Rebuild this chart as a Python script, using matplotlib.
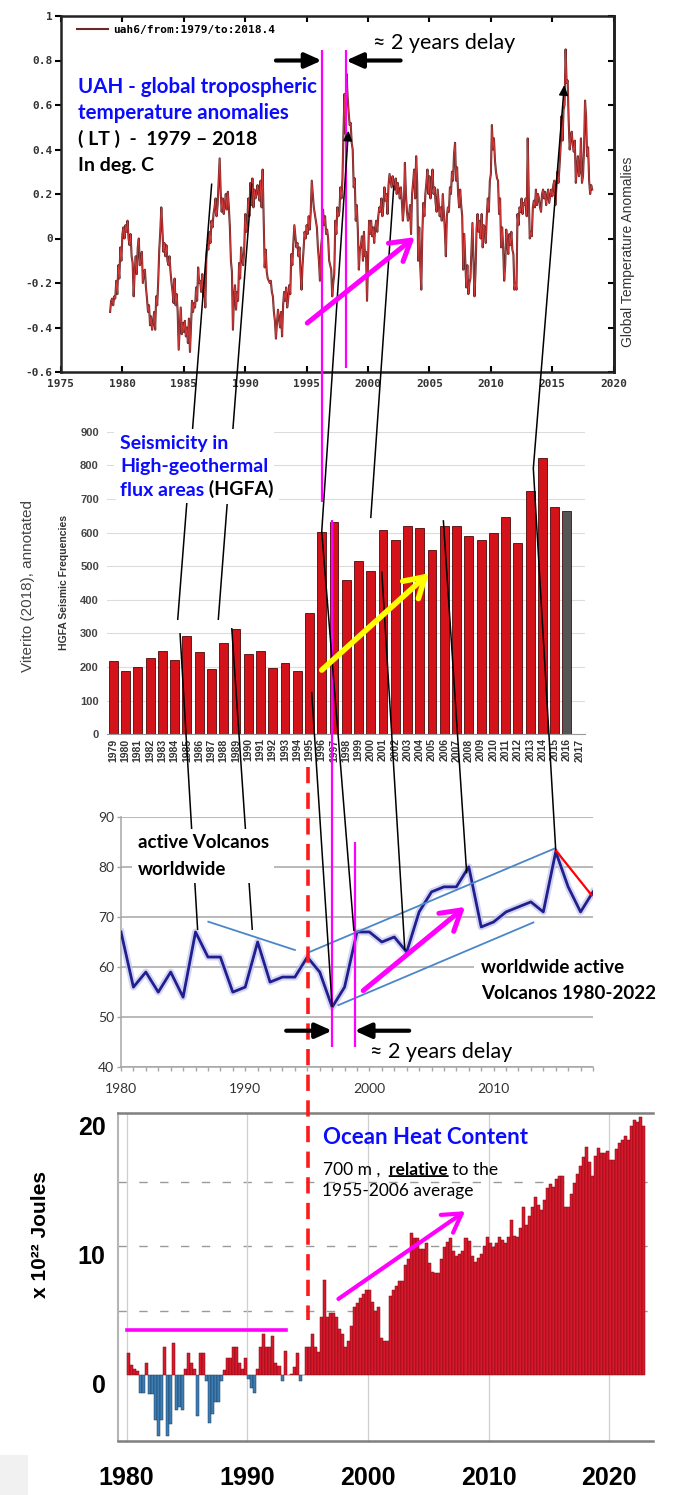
import numpy as np
import matplotlib.pyplot as plt
from matplotlib.patches import FancyArrowPatch, Rectangle
from matplotlib.transforms import ScaledTranslation

W, H, DPI = 674, 1495, 100
LATO = ['Lato', 'DejaVu Sans']
MONO = 'DejaVu Sans Mono'
ARIAL = 'Liberation Sans'
BLUE = '#0b0bff'
MAGENTA = '#ff00ff'

# ---- UAH v6 lower troposphere, monthly anomaly (deg C), 1979 .. 2018.3
uah_by_year = [
    [-0.33, -0.28, -0.27, -0.30, -0.26, -0.27, -0.19, -0.25, -0.12, -0.18, -0.04, -0.10],
    [0.02, 0.05, 0.00, 0.06, 0.03, 0.08, 0.00, -0.03, 0.02, -0.08, -0.11, -0.26],
    [-0.15, -0.08, -0.16, -0.04, 0.00, -0.12, -0.10, -0.06, -0.20, -0.15, -0.14, -0.22],
    [-0.27, -0.33, -0.30, -0.39, -0.35, -0.41, -0.38, -0.33, -0.41, -0.26, -0.30, -0.19],
    [-0.05, 0.03, 0.14, 0.05, -0.06, -0.02, -0.08, -0.03, -0.10, -0.12, -0.08, -0.15],
    [-0.20, -0.24, -0.29, -0.18, -0.30, -0.25, -0.33, -0.50, -0.40, -0.31, -0.43, -0.38],
    [-0.42, -0.37, -0.44, -0.40, -0.47, -0.36, -0.51, -0.40, -0.28, -0.33, -0.29, -0.31],
    [-0.22, -0.28, -0.13, -0.20, -0.19, -0.24, -0.16, -0.26, -0.20, -0.31, -0.09, -0.03],
    [-0.05, 0.03, -0.02, 0.08, 0.05, 0.11, 0.14, 0.18, 0.10, 0.15, 0.25, 0.36],
    [0.21, 0.12, 0.18, 0.11, 0.15, 0.20, 0.13, 0.21, 0.14, 0.05, -0.10, -0.15],
    [-0.41, -0.26, -0.21, -0.32, -0.24, -0.28, -0.11, -0.18, -0.04, -0.09, -0.12, -0.05],
    [0.11, 0.03, 0.08, 0.18, 0.10, 0.25, 0.15, 0.27, 0.14, 0.22, 0.18, 0.20],
    [0.24, 0.20, 0.17, 0.26, 0.14, 0.31, 0.10, -0.13, -0.05, -0.15, -0.18, -0.19],
    [-0.20, -0.19, -0.24, -0.26, -0.33, -0.37, -0.45, -0.38, -0.32, -0.36, -0.40, -0.33],
    [-0.44, -0.30, -0.24, -0.28, -0.22, -0.31, -0.27, -0.21, -0.25, -0.07, -0.12, -0.02],
    [0.06, 0.01, -0.04, -0.02, -0.08, -0.04, -0.15, -0.23, -0.12, -0.05, 0.03, 0.00],
    [0.06, 0.02, 0.10, 0.04, 0.12, 0.26, 0.20, 0.14, 0.11, 0.08, 0.05, -0.04],
    [-0.10, -0.19, -0.04, 0.00, 0.13, 0.06, 0.10, 0.02, 0.04, 0.00, -0.10, -0.12],
    [-0.14, -0.26, -0.20, -0.16, 0.08, 0.02, 0.14, 0.10, 0.12, 0.23, 0.18, 0.27],
    [0.48, 0.65, 0.47, 0.74, 0.64, 0.57, 0.51, 0.52, 0.43, 0.40, 0.23, 0.27],
    [0.08, 0.15, 0.04, -0.14, -0.05, -0.03, 0.01, -0.10, 0.03, -0.08, -0.06, -0.28],
    [-0.10, 0.08, 0.02, 0.08, 0.01, 0.05, -0.02, 0.05, 0.08, 0.03, 0.10, 0.14],
    [0.12, 0.18, 0.10, 0.15, 0.23, 0.17, 0.20, 0.11, 0.24, 0.29, 0.26, 0.23],
    [0.28, 0.24, 0.22, 0.27, 0.20, 0.25, 0.22, 0.18, 0.23, 0.17, 0.08, 0.14],
    [0.34, 0.20, 0.12, 0.08, 0.10, 0.15, 0.02, 0.20, 0.25, 0.31, 0.18, 0.37],
    [0.25, -0.10, 0.05, -0.12, -0.23, 0.02, 0.16, 0.10, 0.20, 0.25, 0.31, 0.20],
    [0.28, 0.18, 0.24, 0.31, 0.20, 0.23, 0.16, 0.12, 0.22, 0.16, 0.10, 0.14],
    [0.08, 0.20, 0.12, 0.04, -0.08, 0.10, 0.14, 0.12, 0.23, 0.20, 0.30, 0.26],
    [0.38, 0.43, 0.26, 0.32, 0.20, 0.14, 0.22, 0.15, 0.10, -0.14, 0.02, -0.10],
    [-0.22, -0.12, -0.25, -0.20, -0.18, -0.06, 0.07, -0.10, -0.26, -0.15, 0.04, 0.11],
    [0.03, 0.08, 0.00, 0.11, -0.04, 0.06, 0.05, -0.02, 0.10, 0.18, 0.12, 0.26],
    [0.29, 0.51, 0.40, 0.45, 0.35, 0.30, 0.27, 0.26, 0.11, 0.18, -0.04, 0.05],
    [-0.04, -0.19, -0.12, 0.04, -0.02, -0.07, 0.02, -0.03, 0.03, -0.05, -0.07, -0.23],
    [-0.20, -0.23, 0.11, 0.06, 0.14, 0.12, 0.18, 0.11, 0.16, 0.15, 0.18, 0.10],
    [0.45, 0.20, 0.00, 0.03, 0.01, 0.14, 0.17, 0.14, 0.22, 0.15, 0.20, 0.18],
    [0.14, 0.12, 0.20, 0.22, 0.18, 0.21, 0.15, 0.19, 0.22, 0.16, 0.19, 0.22],
    [0.19, 0.24, 0.26, 0.15, 0.23, 0.30, 0.25, 0.32, 0.40, 0.55, 0.44, 0.58],
    [0.60, 0.85, 0.70, 0.71, 0.53, 0.40, 0.45, 0.48, 0.42, 0.39, 0.44, 0.25],
    [0.32, 0.37, 0.28, 0.30, 0.45, 0.25, 0.28, 0.40, 0.62, 0.55, 0.37, 0.41],
    [0.26, 0.20, 0.24, 0.22],
]
uah = np.concatenate([np.array(r) for r in uah_by_year])
uah_t = 1979 + np.arange(len(uah)) / 12.0
uah_yticks = [-0.6, -0.4, -0.2, 0, 0.2, 0.4, 0.6, 0.8, 1.0]
uah_ylabels = ['-0.6', '-0.4', '-0.2', '0', '0.2', '0.4', '0.6', '0.8', '1']

# ---- HGFA seismic frequencies (Viterito 2018), yearly
hgfa_years = np.arange(1979, 2017)
hgfa_counts = [219, 188, 201, 228, 247, 221, 292, 245, 193, 273, 314, 238, 249, 197,
               212, 188, 362, 603, 630, 458, 516, 487, 607, 577, 619, 613, 548, 620,
               621, 590, 577, 598, 647, 570, 723, 822, 675, 663]
hgfa_tick_years = np.arange(1979, 2018)

# ---- active volcanoes worldwide, yearly
volc_years = np.arange(1980, 2019)
volc_counts = [67, 56, 59, 55, 59, 54, 67, 62, 62, 55, 56, 65, 57, 58, 58, 62, 59, 52,
               56, 67, 67, 65, 66, 63, 71, 75, 76, 76, 80, 68, 69, 71, 72, 73, 71, 83,
               76, 71, 75]

# ---- ocean heat content 0-700 m (10^22 J), quarterly, 1980 .. 2022
ohc_by_year = [
    [1.7, 0.8, 0.5, 0.3], [-1.4, -1.4, 0.9, -1.5], [-1.5, -3.5, -4.7, -3.5],
    [2.2, -4.7, -3.8, 2.5], [-2.7, -2.5, -2.7, 0.5], [1.7, 0.9, 0.5, -3.2],
    [1.7, 1.7, -0.5, -3.7], [-3.0, -2.1, -2.1, -0.5], [0.4, 1.3, 1.3, 2.2],
    [2.2, 0.9, 0.5, 1.3], [-0.3, -1.0, -1.4, 0.5], [2.2, 3.2, 2.2, 2.2],
    [3.0, 0.9, 0.7, -0.5], [1.9, 0.0, 0.1, 0.6], [1.7, -0.5, 0.0, 2.2],
    [2.2, 3.2, 2.2, 1.8], [4.5, 7.4, 4.5, 4.8], [4.8, 4.5, 3.6, 3.2],
    [2.2, 2.6, 3.8, 5.3], [5.6, 6.0, 6.3, 6.6], [6.6, 5.7, 5.0, 5.3],
    [2.9, 2.6, 2.6, 6.1], [6.6, 6.9, 7.3, 7.3], [8.5, 9.0, 11.0, 10.6],
    [10.6, 9.8, 9.8, 10.2], [8.7, 8.0, 7.9, 7.9], [9.0, 9.9, 10.3, 10.6],
    [9.6, 9.2, 9.4, 9.6], [10.6, 10.4, 9.2, 8.8], [9.1, 9.4, 10.0, 10.7],
    [10.2, 9.9, 10.2, 10.7], [10.5, 10.2, 10.7, 12.0], [10.8, 10.7, 11.4, 13.0],
    [11.6, 12.3, 13.0, 13.8], [13.2, 12.8, 13.6, 14.5], [14.8, 14.6, 15.2, 15.4],
    [15.4, 13.0, 13.0, 14.0], [14.9, 15.6, 16.2, 16.9], [17.7, 16.5, 15.4, 17.0],
    [17.6, 17.2, 17.2, 17.4], [16.7, 16.7, 17.5, 18.0], [18.2, 18.5, 18.2, 19.3],
    [19.8, 19.6, 20.0, 19.3],
]
ohc = np.concatenate([np.array(r) for r in ohc_by_year])
ohc_t = 1980 + 0.25 * np.arange(len(ohc))


def rect(left, top, right, bottom):
    # pixel box -> figure fraction
    return [left / W, 1 - bottom / H, (right - left) / W, (bottom - top) / H]


fig = plt.figure(figsize=(W / DPI, H / DPI), dpi=DPI)
fig.patch.set_facecolor('white')

ax1 = fig.add_axes(rect(61, 16, 613.7, 372))
ax2 = fig.add_axes(rect(107.2, 431.7, 585.3, 734.3))
ax3 = fig.add_axes(rect(121, 816.7, 593, 1067.3))
ax4 = fig.add_axes(rect(118, 1113.3, 652.7, 1440.7))

# --------------------------------------------------------
#  Panel 1: UAH temperature anomalies
# --------------------------------------------------------
ax1.plot(uah_t, uah, color='#6e2626', lw=1.5, label='uah6/from:1979/to:2018.4')
ax1.plot(uah_t, uah, color='#d83a3a', lw=0.6)
ax1.set_xlim(1975, 2020)
ax1.set_ylim(-0.6, 1.0)
ax1.set_xticks(range(1975, 2021, 5))
ax1.set_yticks(uah_yticks)
ax1.set_yticklabels(uah_ylabels)
ax1.tick_params(axis='x', direction='in', top=True, length=4, width=1.5, pad=5)
ax1.tick_params(axis='y', direction='out', length=4, width=1.5, pad=2)
for lab in ax1.get_xticklabels() + ax1.get_yticklabels():
    lab.set_fontfamily(MONO)
    lab.set_fontweight('bold')
    lab.set_fontsize(8)
    lab.set_color('#333333')
for sp in ax1.spines.values():
    sp.set_linewidth(1.8)
    sp.set_color('#222222')
axr = ax1.secondary_yaxis('right')
axr.set_yticks(uah_yticks)
axr.set_yticklabels([])
axr.tick_params(direction='in', length=4, width=1.5)
axr.spines['right'].set_linewidth(1.8)
ax1.legend(loc='upper left', bbox_to_anchor=(0.029, 0.975), frameon=False,
           borderpad=0, borderaxespad=0, handlelength=2.8, handletextpad=0.45,
           prop={'family': MONO, 'weight': 'bold', 'size': 8})

# --------------------------------------------------------
#  Panel 2: HGFA seismic frequencies
# --------------------------------------------------------
bar_cols = ['#d4121a'] * (len(hgfa_years) - 1) + ['#555555']
ax2.bar(hgfa_years, hgfa_counts, width=0.72, color=bar_cols, edgecolor='#4a0a0a',
        linewidth=0.6, zorder=2)
ax2.set_xlim(1978.5, 2017.5)
ax2.set_ylim(0, 900)
ax2.set_yticks(range(0, 1000, 100))
ax2.set_xticks(hgfa_tick_years)
ax2.set_xticklabels([str(y) for y in hgfa_tick_years], rotation=90)
ax2.grid(axis='y', color='#dcdcdc', lw=0.8, zorder=0)
ax2.tick_params(axis='both', length=0)
ax2.tick_params(axis='y', pad=6)
ax2.tick_params(axis='x', pad=3)
for lab in ax2.get_yticklabels():
    lab.set(fontfamily=ARIAL, fontweight='bold', fontsize=8, color='#444444')
for lab in ax2.get_xticklabels():
    lab.set(fontfamily=ARIAL, fontweight='bold', fontsize=7.5, color='#333333')
for s in ('left', 'top', 'right'):
    ax2.spines[s].set_visible(False)
ax2.spines['bottom'].set_color('#999999')
ax2.set_ylabel('HGFA Seismic Frequencies', fontfamily=ARIAL, fontweight='bold',
               fontsize=7.5, color='#333333', labelpad=8)

# --------------------------------------------------------
#  Panel 3: active volcanoes
# --------------------------------------------------------
ax3.plot(volc_years, volc_counts, color='#c4c4ee', lw=5, alpha=0.7, zorder=3)
ax3.plot(volc_years, volc_counts, color='#1f1f90', lw=2, zorder=4)
ax3.set_xlim(1980, 2018)
ax3.set_ylim(40, 90)
ax3.set_yticks(range(40, 100, 10))
ax3.set_xticks([1980, 1990, 2000, 2010])
ax3.set_xticks(range(1980, 2019), minor=True)
ax3.grid(axis='y', color='#a6a6a6', lw=1.1, zorder=0)
ax3.tick_params(axis='both', which='both', color='#a6a6a6', length=3, width=1)
ax3.tick_params(axis='x', pad=8.5)
ax3.tick_params(axis='y', pad=2)
for lab in ax3.get_xticklabels() + ax3.get_yticklabels():
    lab.set(fontfamily=LATO, fontsize=10, color='#333333')
for s in ('top', 'right'):
    ax3.spines[s].set_visible(False)
for s in ('left', 'bottom'):
    ax3.spines[s].set_color('#a6a6a6')
    ax3.spines[s].set_linewidth(1.1)

# channel and trend lines
ax3.plot([1987.03, 1994.0], [69.05, 63.4], color='#4a86c8', lw=1.3, zorder=5)
ax3.plot([1995.08, 2014.95], [62.9, 83.7], color='#4a86c8', lw=1.3, zorder=5)
ax3.plot([1997.5, 2013.2], [52.4, 68.9], color='#4a86c8', lw=1.3, zorder=5)
ax3.plot([2015, 2017.9], [83.3, 74.3], color='#ff0000', lw=1.6, zorder=5)

# --------------------------------------------------------
#  Panel 4: ocean heat content
# --------------------------------------------------------
pos = ohc >= 0
ax4.bar(ohc_t[pos], ohc[pos], width=0.25, align='edge', color='#d8182b',
        edgecolor='#7a0a14', linewidth=0.35, zorder=2)
ax4.bar(ohc_t[~pos], ohc[~pos], width=0.25, align='edge', color='#3d7db3',
        edgecolor='#1b3d5c', linewidth=0.35, zorder=2)
ax4.set_xlim(1979.28, 2023.6)
ax4.set_ylim(-5.09, 20.29)
ax4.set_yticks([0, 10, 20])
ax4.set_xticks([1980, 1990, 2000, 2010, 2020])
ax4.grid(axis='x', color='#cfcfcf', lw=0.9, zorder=0)
for level in (5, 10, 15):
    ax4.axhline(level, color='#9a9a9a', lw=1.0, ls=(0, (6, 9)), zorder=0)
ax4.tick_params(axis='both', which='both', length=0)
ax4.tick_params(axis='y', pad=9)
ax4.tick_params(axis='x', pad=18)
shift = ScaledTranslation(0, -8 / DPI, fig.dpi_scale_trans)
for lab in ax4.get_yticklabels():
    lab.set_transform(lab.get_transform() + shift)
for lab in ax4.get_xticklabels() + ax4.get_yticklabels():
    lab.set(fontfamily=ARIAL, fontweight='bold', fontsize=18, color='black')
ax4.spines['right'].set_visible(False)
for s in ('top', 'bottom'):
    ax4.spines[s].set_color('#7f7f7f')
    ax4.spines[s].set_linewidth(1.8)
ax4.spines['left'].set_color('#b5b5b5')
ax4.spines['left'].set_linewidth(1.5)
ax4.plot([1980.0, 1993.2], [3.5, 3.5], color=MAGENTA, lw=2.6, zorder=5)

# --------------------------------------------------------
#  Overlay for annotations that cross panels
# --------------------------------------------------------
ov = fig.add_axes([0, 0, 1, 1], zorder=10)
ov.set_xlim(0, W)
ov.set_ylim(H, 0)
ov.axis('off')
ov.patch.set_alpha(0)


def px(ax, x, y):
    return tuple(ov.transData.inverted().transform(ax.transData.transform((x, y))))


def seg(p0, p1, **kw):
    ov.plot([p0[0], p1[0]], [p0[1], p1[1]], solid_capstyle='butt', **kw)


def arrow(p0, p1, style, **kw):
    ov.add_patch(FancyArrowPatch(p0, p1, arrowstyle=style, shrinkA=0, shrinkB=0, **kw))


# black connectors between the panels
connectors = [
    (ax1, (1987.27, 0.247), ax2, (1984.25, 340)),
    (ax1, (1990.53, 0.247), ax2, (1987.56, 340)),
    (ax2, (1984.44, 301), ax3, (1986.17, 67.4)),
    (ax2, (1988.66, 316), ax3, (1990.57, 67.4)),
    (ax2, (1995.18, 126), ax3, (1997.0, 52.0)),
    (ax2, (1996.0, 603), ax3, (1998.75, 67.2)),
    (ax1, (2002.1, 0.238), ax2, (2000.0, 643)),
    (ax2, (2000.9, 484), ax3, (2002.85, 63.4)),
    (ax2, (2005.92, 637), ax3, (2007.83, 78.7)),
    (ax2, (2013.26, 791), ax3, (2015.0, 83.3)),
]
for a, pa, b, pb in connectors:
    seg(px(a, *pa), px(b, *pb), color='black', lw=1.1, zorder=3)
small_head = '-|>,head_length=1.0,head_width=0.45'
arrow(px(ax2, 1996.0, 603), px(ax1, 1998.4, 0.485), small_head,
      mutation_scale=6, lw=1.1, color='black', zorder=3)
arrow(px(ax2, 2013.26, 791), px(ax1, 2015.98, 0.69), small_head,
      mutation_scale=6, lw=1.1, color='black', zorder=3)

# magenta markers of the ~2 year lag
x_v1 = px(ax2, 1996, 0)[0]
x_v2 = px(ax1, 1998.2, 0)[0]
x_v3 = px(ax3, 1997, 0)[0]
x_v4 = px(ax3, 1998.8, 0)[0]
top1 = px(ax1, 0, 0.845)[1]
seg((x_v1, top1), (x_v1, px(ax2, 0, 692)[1]), color=MAGENTA, lw=1.6, zorder=2)
seg((x_v2, top1), (x_v2, px(ax1, 0, -0.58)[1]), color=MAGENTA, lw=1.6, zorder=2)
bot3 = px(ax3, 0, 44)[1]
seg((x_v3, px(ax2, 0, 637)[1]), (x_v3, bot3), color=MAGENTA, lw=1.6, zorder=2)
seg((x_v4, px(ax3, 0, 85)[1]), (x_v4, bot3), color=MAGENTA, lw=1.6, zorder=2)

big_head = '-|>,head_length=1.0,head_width=0.45'
y_a = px(ax1, 0, 0.8)[1]
arrow((px(ax1, 1992.5, 0)[0], y_a), (x_v1, y_a), big_head, mutation_scale=10,
      lw=3, color='black', zorder=4)
arrow((px(ax1, 2002.65, 0)[0], y_a), (x_v2, y_a), big_head, mutation_scale=10,
      lw=3, color='black', zorder=4)
y_b = px(ax3, 0, 47.3)[1]
arrow((px(ax3, 1993.3, 0)[0], y_b), (x_v3, y_b), big_head, mutation_scale=10,
      lw=3, color='black', zorder=4)
arrow((px(ax3, 2003.2, 0)[0], y_b), (x_v4, y_b), big_head, mutation_scale=10,
      lw=3, color='black', zorder=4)

# red dashed 1995 marker
x_d = px(ax4, 1995, 0)[0]
seg((x_d, px(ax2, 0, -97)[1]), (x_d, px(ax4, 0, 4.3)[1]), color='#ff1a1a', lw=2.6,
    ls=(0, (4.5, 2.6)), zorder=2)

# trend arrows
open_head = '->,head_length=1.0,head_width=0.6'
arrow(px(ax1, 1995.05, -0.38), px(ax1, 2003.8, 0.006), open_head, mutation_scale=14,
      lw=3.6, color=MAGENTA, zorder=4)
arrow(px(ax2, 1996.0, 191), px(ax2, 2004.75, 479), open_head, mutation_scale=14,
      lw=4, color='#ffff00', zorder=4)
arrow(px(ax3, 1999.5, 55.3), px(ax3, 2007.7, 72.0), open_head, mutation_scale=14,
      lw=3.6, color=MAGENTA, zorder=4)
arrow(px(ax4, 1997.55, 5.9), px(ax4, 2008.05, 12.7), open_head, mutation_scale=13,
      lw=3, color=MAGENTA, zorder=4)

# ---- texts
tb = dict(family=LATO, fontweight='bold', va='center', ha='left', zorder=6)
ov.text(78, 87, 'UAH - global tropospheric', color=BLUE, fontsize=14.8, **tb)
ov.text(78, 113, 'temperature anomalies', color=BLUE, fontsize=14.8, **tb)
ov.text(78, 139, '( LT )  -  1979 \u2013 2018', color='black', fontsize=14, **tb)
ov.text(78, 165, 'In deg. C', color='black', fontsize=14, **tb)

delay = dict(family=LATO, fontsize=15.5, va='center', ha='left', color='black', zorder=6)
ov.text(373, 43, '\u2248 2 years delay', **delay)
ov.text(370, 1052, '\u2248 2 years delay', **delay)

wbox = dict(fc='white', ec='none', pad=4)
ov.text(120, 455, 'Seismicity in\nHigh-geothermal', color=BLUE, fontsize=14,
        linespacing=1.45, bbox=wbox, **tb)
t_flux = ov.text(120, 490, 'flux areas', color=BLUE, fontsize=14,
                 bbox=dict(fc='white', ec='none', pad=3), **tb)
t_flux.set_zorder(7)
ov.annotate(' (HGFA)', xy=(1, 0), xycoords=t_flux, ha='left', va='bottom',
            fontsize=14, fontweight='bold', family=LATO, color='black', zorder=6,
            bbox=wbox)
ov.text(28, 586, 'Viterito (2018), annotated', rotation=90, family=ARIAL, fontsize=11,
        color='#444444', ha='center', va='center', zorder=6)

ov.text(137.7, 856, 'active Volcanos\nworldwide', color='black', fontsize=13.5,
        linespacing=1.66, bbox=wbox, **tb)
ov.text(481, 980.5, 'worldwide active\nVolcanos 1980-2022', color='black', fontsize=13.5,
        linespacing=1.59, bbox=dict(fc='white', ec='none', pad=5), **tb)

ov.text(323, 1137, 'Ocean Heat Content', color=BLUE, fontsize=16, **tb)
reg = dict(family=LATO, fontsize=12.5, color='black', zorder=6)
t_a = ov.text(323, 1170, '700 m ,  ', va='center', ha='left', **reg)
t_b = ov.annotate('relative', xy=(1, 0), xycoords=t_a, va='bottom', ha='left',
                  fontweight='bold', **reg)
ov.annotate(' to the', xy=(1, 0), xycoords=t_b, va='bottom', ha='left', **reg)
ov.annotate('', xy=(0, 0.12), xycoords=t_b, xytext=(1, 0.12), textcoords=t_b,
            arrowprops=dict(arrowstyle='-', lw=1.3, color='black', shrinkA=0, shrinkB=0),
            zorder=6)
ov.text(322, 1191, '1955-2006 average', va='center', ha='left', **reg)

ov.text(40, 1235, 'x 10\u00b2\u00b2 Joules', rotation=90, family=ARIAL, fontweight='bold',
        fontsize=15, ha='center', va='center', zorder=6)
ov.text(628, 252, 'Global Temperature Anomalies', rotation=90, family=ARIAL,
        fontsize=10, color='#333333', ha='center', va='center', zorder=6)
ov.add_patch(Rectangle((0, 1455), 28, 40, fc='#f1f1f1', ec='none', zorder=1))

fig.savefig('out.png', dpi=DPI)
